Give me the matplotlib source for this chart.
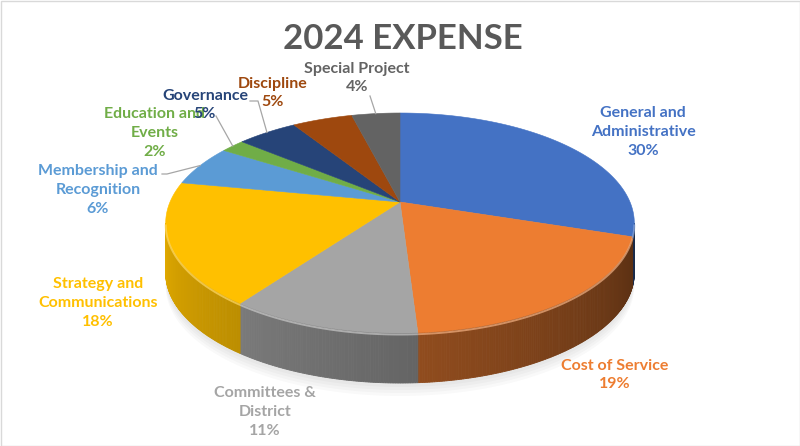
import numpy as np
import matplotlib.pyplot as plt
from matplotlib.patches import Polygon, Rectangle
import matplotlib.colors as mcolors

plt.rcParams["font.family"] = ["Lato", "DejaVu Sans"]

categories = [
    "General and\nAdministrative",
    "Cost of Service",
    "Committees &\nDistrict",
    "Strategy and\nCommunications",
    "Membership and\nRecognition",
    "Education and\nEvents",
    "Governance",
    "Discipline",
    "Special Project",
]
values = [30, 19, 11, 18, 6, 2, 5, 5, 4]
colors = ["#4472C4", "#ED7D31", "#A5A5A5", "#FFC000", "#5B9BD5",
          "#70AD47", "#264478", "#9E480E", "#636363"]

# label centres and leader-line starts (pixel layout)
label_xy = [(643, 132), (615, 375), (265, 412), (98, 303), (98, 190),
            (155, 133), (205, 105), (273, 93), (357, 78)]
leader_start = {4: [(162, 174), (167, 174)], 5: [(216, 116)],
                6: [(250, 101), (258, 101)], 8: [(370, 96)]}

# pie geometry (pixels), simple perspective
cx, cy, A, B, p, depth = 400, 202, 230, 106, 0.191, 50


def proj(theta_deg, dy=0.0):
    t = np.radians(theta_deg)
    d = 1 + p * np.sin(t)
    return cx + A * np.cos(t) / d, cy - B * np.sin(t) / d + dy


fig = plt.figure(figsize=(8, 4.46), dpi=100)
ax = fig.add_axes([0, 0, 1, 1])
ax.set_xlim(0, 800)
ax.set_ylim(446, 0)
ax.axis("off")

total = sum(values)
cum = np.concatenate([[0], np.cumsum(values)])
starts = 90 - 360 * cum[:-1] / total
ends = 90 - 360 * cum[1:] / total

# soft shadow under the pie
for k in range(4):
    ts = np.linspace(-175, -5, 100)
    xs, ys = proj(ts, depth + 4 + 3 * k)
    ax.fill(np.r_[xs, xs[::-1]], np.r_[ys, ys[::-1] - 20], color="black",
            alpha=0.025, lw=0, zorder=0)

# side walls (front half only), lighter on the left, darker on the right
left, right = -169, -11
for s, e, c in zip(starts, ends, colors):
    lo, hi = max(e, left), min(s, right)
    if lo >= hi:
        continue
    steps = np.append(np.arange(hi, lo, -0.5), lo)
    rgb = np.array(mcolors.to_rgb(c))
    for t1, t2 in zip(steps[:-1], steps[1:]):
        frac = ((t1 + t2) / 2 - left) / (right - left)
        f = 0.88 - 0.52 * frac
        col = np.clip(rgb * f, 0, 1)
        x1, y1 = proj(t1)
        x2, y2 = proj(t2)
        ax.add_patch(Polygon([(x1, y1), (x2, y2), (x2, y2 + depth), (x1, y1 + depth)],
                             closed=True, fc=col, ec=col, lw=0.6, zorder=1))

# top faces
for s, e, c in zip(starts, ends, colors):
    ts = np.linspace(s, e, max(int(abs(s - e) * 2), 4))
    xs, ys = proj(ts)
    pts = [(cx, cy)] + list(zip(xs, ys))
    ax.add_patch(Polygon(pts, closed=True, fc=c, ec=c, lw=0.4, zorder=2))
    # bevel highlight on the front rim
    lo, hi = max(e, left), min(s, right)
    if lo < hi:
        tr = np.linspace(hi, lo, 60)
        xr, yr = proj(tr)
        hl = np.clip(np.array(mcolors.to_rgb(c)) * 0.6 + 0.4, 0, 1)
        ax.plot(xr, yr + 1.5, color=hl, lw=1.4, alpha=0.7, zorder=3,
                solid_capstyle="butt")

# data labels
for i, (name, v, c, (lx, ly)) in enumerate(zip(categories, values, colors, label_xy)):
    ax.text(lx, ly, f"{name}\n{v}%", ha="center", va="center", color=c,
            fontsize=11.5, fontweight="bold", linespacing=1.45, zorder=5)
    if i in leader_start:
        mid = (starts[i] + ends[i]) / 2
        ex, ey = proj(mid)
        pts = leader_start[i] + [(ex, ey)]
        ax.plot([q[0] for q in pts], [q[1] for q in pts], color="#A6A6A6",
                lw=0.9, zorder=4)

ax.text(403, 39, "2024 EXPENSE", ha="center", va="center", color="#595959",
        fontsize=25, fontweight="bold")

ax.add_patch(Rectangle((0.5, 0.5), 799, 445, fill=False, ec="#D9D9D9", lw=1))

fig.savefig("out.png", dpi=100)
